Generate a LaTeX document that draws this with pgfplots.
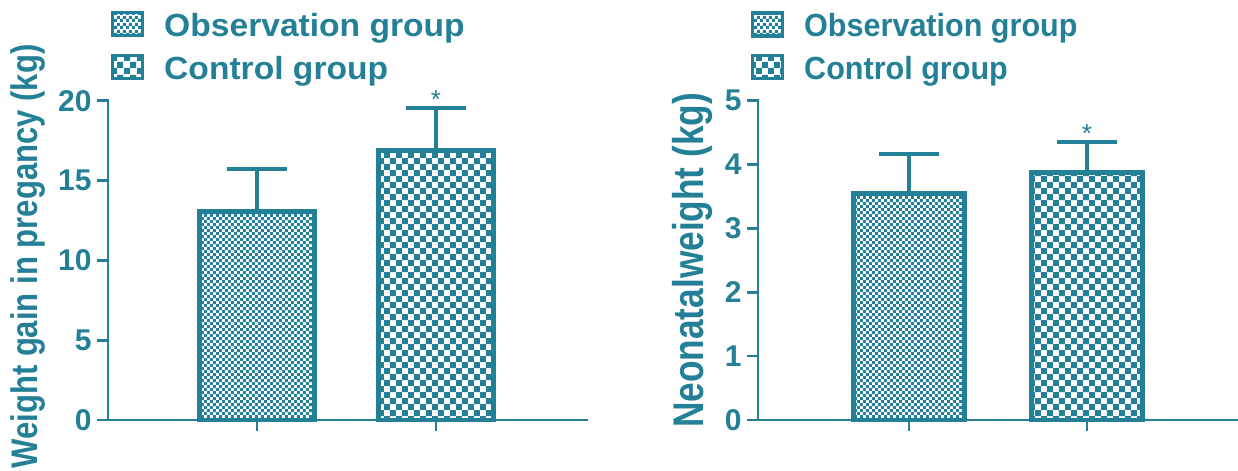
\documentclass[border=0pt]{standalone}
\usepackage{pgfplots}
\pgfplotsset{compat=1.18}
\usepackage{graphicx}
\usepackage{fontspec}
\setmainfont{Liberation Sans}
\usetikzlibrary{patterns}

\definecolor{gpteal}{RGB}{35,128,150}

% checkerboard fills: fine for the observation group, coarse for the control group
\pgfdeclarepatternformonly{checkfine}{\pgfqpoint{0pt}{0pt}}{\pgfqpoint{3.2pt}{3.2pt}}{\pgfqpoint{3.2pt}{3.2pt}}{%
  \pgfpathrectangle{\pgfqpoint{0pt}{0pt}}{\pgfqpoint{1.6pt}{1.6pt}}%
  \pgfpathrectangle{\pgfqpoint{1.6pt}{1.6pt}}{\pgfqpoint{1.6pt}{1.6pt}}%
  \pgfusepath{fill}}
\pgfdeclarepatternformonly{checkcoarse}{\pgfqpoint{0pt}{0pt}}{\pgfqpoint{6.2pt}{6.2pt}}{\pgfqpoint{6.2pt}{6.2pt}}{%
  \pgfpathrectangle{\pgfqpoint{0pt}{0pt}}{\pgfqpoint{3.1pt}{3.1pt}}%
  \pgfpathrectangle{\pgfqpoint{3.1pt}{3.1pt}}{\pgfqpoint{3.1pt}{3.1pt}}%
  \pgfusepath{fill}}

\tikzset{
  sigstar/.style={anchor=north, inner sep=0pt, text=gpteal, yshift=9pt,
    font=\fontsize{13}{13}\selectfont},
}

\pgfplotsset{
  panel/.style={
    scale only axis, height=159.65pt,
    ymin=0, clip=false,
    axis x line*=bottom, axis y line*=left,
    axis line style={gpteal, line width=1.35pt, line cap=rect},
    every tick/.style={gpteal, line width=1.35pt},
    major tick length=5.5pt, tick align=outside,
    xtick={1,2}, xticklabels={},
    /pgf/number format/assume math mode=true,
    tick label style={font=\fontsize{15}{18}\selectfont\bfseries, text=gpteal},
    yticklabel style={inner sep=0pt, xshift=-2.5pt},
    legend cell align=left,
    legend style={draw=none, fill=none, inner sep=0pt, outer sep=0pt,
      column sep=10pt, row sep=7pt, text=gpteal,
      nodes={inner sep=0pt}},
  },
  legsq/.style={legend image code/.code={%
    \draw[gpteal, line width=1.6pt, pattern=#1, pattern color=gpteal]
      (0pt,-4.5pt) rectangle (15pt,7pt);}},
  groupbar/.style={ybar, bar shift=0pt, draw=gpteal, line width=2.4pt,
    pattern=#1, pattern color=gpteal, legsq=#1,
    error bars/y dir=plus, error bars/y explicit,
    error bars/error bar style={gpteal, line width=2.1pt},
    error bars/error mark options={gpteal, line width=2.1pt, mark size=15pt, rotate=90}},
}

\begin{document}
\begin{tikzpicture}
\path[use as bounding box] (0,0) rectangle (619pt,235.5pt);

% weight gain in pregnancy
\begin{axis}[panel,
  at={(54pt,25.5pt)}, anchor=south west,
  width=239.5pt, xmin=0.168, xmax=2.844,
  ymax=20, ytick={0,5,10,15,20}, bar width=57.3pt,
  ylabel={\scalebox{0.84}[1]{Weight gain in pregancy (kg)}},
  ylabel style={font=\fontsize{18.5}{20}\selectfont\bfseries, text=gpteal,
    at={(axis description cs:-0.2046,0.512)}, anchor=north, inner sep=0pt},
  legend style={at={(axis description cs:0.0063,1.28)}, anchor=north west,
    font=\fontsize{16}{19}\selectfont\bfseries},
]
\addplot[groupbar=checkfine] coordinates {(1,13.05) +- (0,2.69)};
\addlegendentry{\scalebox{1.05}[1]{Observation group}}
\addplot[groupbar=checkcoarse] coordinates {(2,16.90) +- (0,2.64)};
\addlegendentry{\scalebox{1.05}[1]{Control group}}
\node[sigstar] at (axis cs:2,19.54) {*};
\end{axis}

% neonatal weight
\begin{axis}[panel,
  at={(379pt,25.5pt)}, anchor=south west,
  width=240pt, xmin=0.152, xmax=2.848,
  ymax=5, ytick={0,1,2,3,4,5}, bar width=55.5pt,
  ylabel={\scalebox{0.82}[1]{Neonatalweight (kg)}},
  ylabel style={font=\fontsize{21.5}{23}\selectfont\bfseries, text=gpteal,
    at={(axis description cs:-0.179,0.5)}, anchor=north, inner sep=0pt},
  legend style={at={(axis description cs:-0.0146,1.28)}, anchor=north west,
    font=\fontsize{16}{19}\selectfont\bfseries},
]
\addplot[groupbar=checkfine] coordinates {(1,3.55) +- (0,0.61)};
\addlegendentry{\scalebox{0.955}[1]{Observation group}}
\addplot[groupbar=checkcoarse] coordinates {(2,3.87) +- (0,0.48)};
\addlegendentry{\scalebox{0.955}[1]{Control group}}
\node[sigstar] at (axis cs:2,4.35) {*};
\end{axis}
\end{tikzpicture}
\end{document}
